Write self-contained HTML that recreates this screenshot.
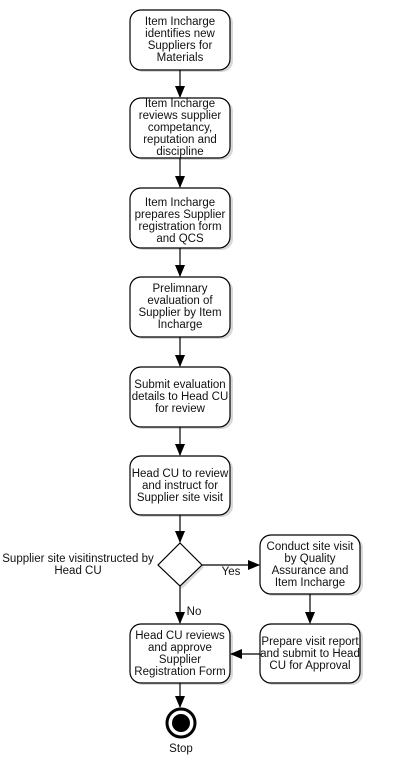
<!DOCTYPE html>
<html><head><meta charset="utf-8"><style>
html,body{margin:0;padding:0;background:#fff;}
svg{display:block;}
text{font-family:"Liberation Sans",sans-serif;font-size:11.5px;fill:#111;text-anchor:middle;}
</style></head><body>
<svg width="406" height="761" viewBox="0 0 406 761" xmlns="http://www.w3.org/2000/svg">
<defs>
<marker id="a" markerWidth="12" markerHeight="12" refX="11" refY="5" orient="auto" markerUnits="userSpaceOnUse">
<path d="M0,0 L12,5 L0,10 z" fill="#000"/></marker>
</defs>
<g fill="#d8d8d8">
<rect x="132" y="12" width="101" height="60" rx="11"/>
<rect x="132" y="100" width="101" height="60" rx="11"/>
<rect x="132" y="190" width="101" height="60" rx="11"/>
<rect x="132" y="279" width="101" height="60" rx="11"/>
<rect x="132" y="369" width="101" height="60" rx="11"/>
<rect x="132" y="458" width="101" height="59" rx="11"/>
<rect x="262" y="537" width="101" height="59" rx="11"/>
<rect x="262" y="626" width="101" height="59" rx="11"/>
<rect x="132" y="626" width="101" height="59" rx="11"/>
<path d="M182,545 L204,567 L182,589 L160,567 z"/>
</g>
<g fill="#fff" stroke="#000" stroke-width="1.2">
<rect x="130" y="10" width="100" height="60" rx="11"/>
<rect x="130" y="98" width="100" height="60" rx="11"/>
<rect x="130" y="188" width="100" height="60" rx="11"/>
<rect x="130" y="277" width="100" height="60" rx="11"/>
<rect x="130" y="367" width="100" height="60" rx="11"/>
<rect x="130" y="456" width="100" height="59" rx="11"/>
<rect x="260" y="535" width="100" height="59" rx="11"/>
<rect x="260" y="624" width="100" height="59" rx="11"/>
<rect x="130" y="624" width="100" height="59" rx="11"/>
<path d="M180,543 L202,565 L180,586 L158,565 z"/>
</g>
<g stroke="#000" stroke-width="1.2" fill="none">
<line x1="180" y1="70" x2="180" y2="97" marker-end="url(#a)"/>
<line x1="180" y1="158" x2="180" y2="187" marker-end="url(#a)"/>
<line x1="180" y1="248" x2="180" y2="276" marker-end="url(#a)"/>
<line x1="180" y1="337" x2="180" y2="366" marker-end="url(#a)"/>
<line x1="180" y1="427" x2="180" y2="455" marker-end="url(#a)"/>
<line x1="180" y1="515" x2="180" y2="542" marker-end="url(#a)"/>
<line x1="202" y1="565" x2="259" y2="565" marker-end="url(#a)"/>
<line x1="310" y1="594" x2="310" y2="623" marker-end="url(#a)"/>
<line x1="180" y1="586" x2="180" y2="623" marker-end="url(#a)"/>
<line x1="260" y1="654" x2="231" y2="654" marker-end="url(#a)"/>
<line x1="180" y1="683" x2="180" y2="707" marker-end="url(#a)"/>
</g>
<circle cx="181" cy="723" r="14" fill="#fff" stroke="#000" stroke-width="3"/>
<circle cx="181" cy="723" r="9" fill="#000"/>
<text x="181" y="752">Stop</text>
<text x="180" y="25">Item Incharge</text><text x="180" y="37">identifies new</text><text x="180" y="49">Suppliers for</text><text x="180" y="61">Materials</text>
<text x="180" y="107">Item Incharge</text><text x="180" y="119">reviews supplier</text><text x="180" y="131">competancy,</text><text x="180" y="143">reputation and</text><text x="180" y="155">discipline</text>
<text x="180" y="206">Item Incharge</text><text x="180" y="218">prepares Supplier</text><text x="180" y="230">registration form</text><text x="180" y="242">and QCS</text>
<text x="180" y="292">Prelimnary</text><text x="180" y="304">evaluation of</text><text x="180" y="316">Supplier by Item</text><text x="180" y="328">Incharge</text>
<text x="180" y="388">Submit evaluation</text><text x="180" y="400">details to Head CU</text><text x="180" y="412">for review</text>
<text x="180" y="477">Head CU to review</text><text x="180" y="489">and instruct for</text><text x="180" y="501">Supplier site visit</text>
<text x="310" y="550">Conduct site visit</text><text x="310" y="562">by Quality</text><text x="310" y="574">Assurance and</text><text x="310" y="586">Item Incharge</text>
<text x="310" y="645">Prepare visit report</text><text x="310" y="657">and submit to Head</text><text x="310" y="669">CU for Approval</text>
<text x="180" y="639">Head CU reviews</text><text x="180" y="651">and approve</text><text x="180" y="663">Supplier</text><text x="180" y="675">Registration Form</text>
<text x="78" y="562">Supplier site visitinstructed by</text><text x="78" y="574">Head CU</text>
<text x="231" y="575">Yes</text>
<text x="194" y="615">No</text>
</svg>
</body></html>
